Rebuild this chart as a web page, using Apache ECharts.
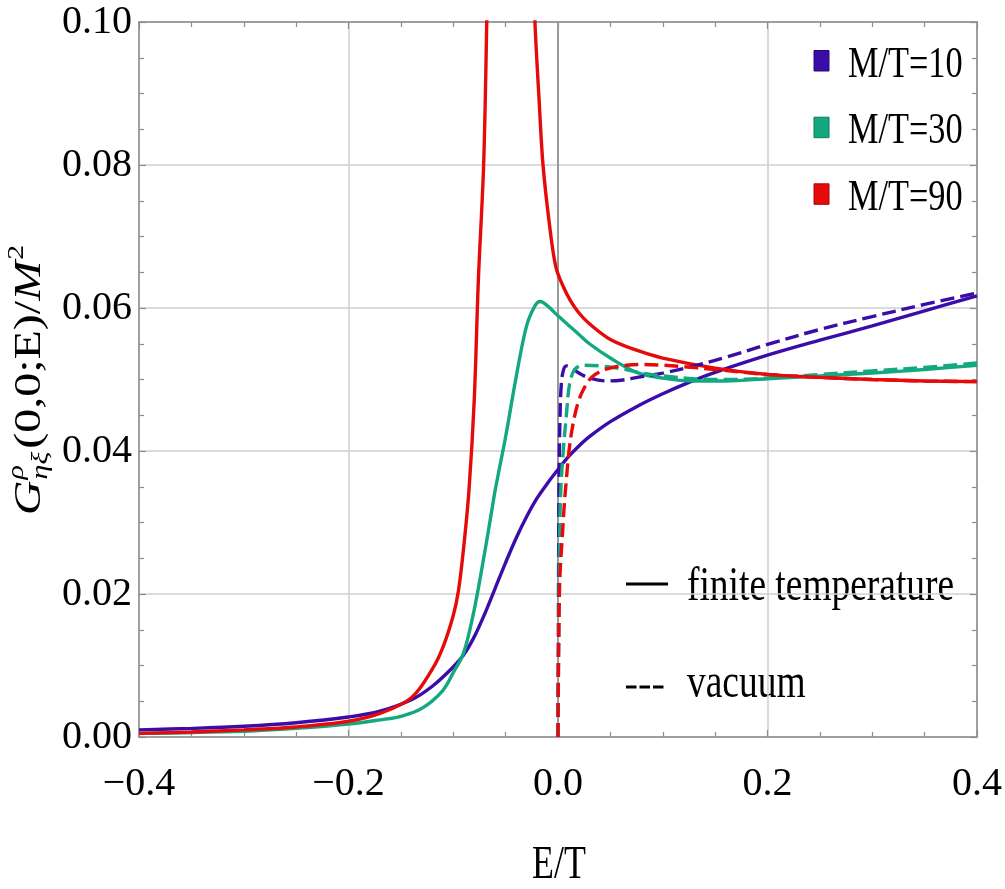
<!DOCTYPE html>
<html>
<head>
<meta charset="utf-8">
<script src="https://cdn.jsdelivr.net/npm/echarts/dist/echarts.min.js"></script>
<style>
  html, body { margin: 0; padding: 0; background: #fff; }
  #chart { width: 1005px; height: 889px; }
</style>
</head>
<body>
<div id="chart"></div>
<script>
// Spectral function G^rho_{eta xi}(0,0;E)/M^2 versus E/T, pairs [E/T, value]

// finite temperature, M/T = 10
const finiteM10 = [
  [-0.40, 0.0010], [-0.35, 0.0012], [-0.30, 0.0015], [-0.25, 0.0020], [-0.20, 0.0028],
  [-0.17, 0.0036], [-0.14, 0.0052], [-0.12, 0.0071], [-0.10, 0.0098], [-0.09, 0.0115],
  [-0.08, 0.0140], [-0.07, 0.0172], [-0.06, 0.0208], [-0.05, 0.0244], [-0.04, 0.0278],
  [-0.03, 0.0308], [-0.02, 0.0334], [-0.01, 0.0355], [0.00, 0.0374], [0.01, 0.0392],
  [0.02, 0.0407], [0.03, 0.0420], [0.05, 0.0441], [0.075, 0.0462], [0.10, 0.0480],
  [0.125, 0.0496], [0.15, 0.0510], [0.20, 0.0534], [0.25, 0.0555], [0.30, 0.0575],
  [0.35, 0.0596], [0.40, 0.0617]
];

// finite temperature, M/T = 30
const finiteM30 = [
  [-0.40, 0.0005], [-0.30, 0.0008], [-0.25, 0.0012], [-0.20, 0.0018], [-0.17, 0.0024],
  [-0.15, 0.0029], [-0.13, 0.0040], [-0.11, 0.0065], [-0.10, 0.0090], [-0.09, 0.0118],
  [-0.08, 0.0178], [-0.07, 0.0258], [-0.064, 0.0310], [-0.06, 0.0345], [-0.05, 0.0420],
  [-0.04, 0.0503], [-0.03, 0.0575], [-0.022, 0.0603], [-0.017, 0.0609], [-0.01, 0.0603],
  [0.00, 0.0589], [0.01, 0.0576], [0.02, 0.0563], [0.03, 0.0550], [0.05, 0.0530],
  [0.075, 0.0510], [0.10, 0.0502], [0.13, 0.0498], [0.16, 0.0498], [0.20, 0.0501],
  [0.25, 0.0505], [0.30, 0.0509], [0.35, 0.0514], [0.40, 0.0520]
];

// finite temperature, M/T = 90 (peak runs off the top of the frame)
const finiteM90 = [
  [-0.40, 0.0005], [-0.35, 0.0007], [-0.30, 0.0010], [-0.25, 0.0014], [-0.20, 0.0022],
  [-0.17, 0.0033], [-0.14, 0.0055], [-0.12, 0.0095], [-0.11, 0.0125], [-0.10, 0.0170],
  [-0.095, 0.0205], [-0.09, 0.0266], [-0.085, 0.0345], [-0.08, 0.0470], [-0.076, 0.0640],
  [-0.071, 0.0800], [-0.068, 0.1000], [-0.064, 0.1300], [-0.058, 0.1650], [-0.050, 0.1850],
  [-0.040, 0.1750], [-0.032, 0.1450], [-0.026, 0.1180], [-0.022, 0.1000], [-0.018, 0.0890],
  [-0.0143, 0.0800], [-0.008, 0.0715], [-0.002, 0.0657], [0.005, 0.0630], [0.012, 0.0610],
  [0.02, 0.0593], [0.03, 0.0578], [0.05, 0.0556], [0.075, 0.0541], [0.10, 0.0530],
  [0.15, 0.0516], [0.20, 0.0507], [0.25, 0.0503], [0.30, 0.0500], [0.35, 0.0498],
  [0.40, 0.0497]
];

// vacuum, M/T = 10
const vacuumM10 = [
  [0.0, 0.0], [0.0003, 0.012], [0.0006, 0.025], [0.001, 0.036], [0.0018, 0.044],
  [0.003, 0.049], [0.005, 0.0512], [0.008, 0.0519], [0.012, 0.0517], [0.02, 0.0509],
  [0.03, 0.0502], [0.045, 0.0498], [0.06, 0.0499], [0.08, 0.0504], [0.10, 0.0509],
  [0.133, 0.0520], [0.16, 0.0531], [0.20, 0.0549], [0.25, 0.0570], [0.30, 0.0588],
  [0.35, 0.0605], [0.40, 0.0621]
];

// vacuum, M/T = 30
const vacuumM30 = [
  [0.0, 0.0], [0.0005, 0.010], [0.001, 0.019], [0.0015, 0.027], [0.0025, 0.034],
  [0.005, 0.040], [0.008, 0.045], [0.011, 0.0493], [0.016, 0.0514], [0.025, 0.0520],
  [0.04, 0.0519], [0.06, 0.0515], [0.08, 0.0509], [0.10, 0.0505], [0.13, 0.0501],
  [0.16, 0.0500], [0.20, 0.0502], [0.25, 0.0507], [0.30, 0.0512], [0.35, 0.0517],
  [0.40, 0.0523]
];

// vacuum, M/T = 90
const vacuumM90 = [
  [0.0, 0.0], [0.0003, 0.008], [0.0007, 0.0136], [0.0012, 0.019], [0.002, 0.023],
  [0.004, 0.0278], [0.006, 0.0325], [0.008, 0.0360], [0.0105, 0.0400], [0.014, 0.0435],
  [0.019, 0.0467], [0.025, 0.0488], [0.032, 0.0503], [0.04, 0.0511], [0.05, 0.0516],
  [0.06, 0.0519], [0.08, 0.0521], [0.10, 0.0520], [0.12, 0.0518], [0.15, 0.0514],
  [0.20, 0.0507], [0.25, 0.0503], [0.30, 0.0500], [0.35, 0.0498], [0.40, 0.0497]
];

const massLabels = ['M/T=10', 'M/T=30', 'M/T=90'];
const styleLabels = ['finite temperature', 'vacuum'];
const xTicks = [-0.4, -0.2, 0.0, 0.2, 0.4];
const yTicks = [0.00, 0.02, 0.04, 0.06, 0.08, 0.10];

const COLORS = ['#3c0ca8', '#14a880', '#e60a0a'];
const EDGE = ['#2a0878', '#0c7a5c', '#a80808'];
const SERIF = "'Liberation Serif', 'Times New Roman', serif";
const SQUEEZE = 0.78;          // horizontal condensation of the typeface
const FRAME = '#8c8c8c';
const GRID = '#cfcfcf';

const measureCtx = document.createElement('canvas').getContext('2d');
function textWidth(str, size, style) {
  measureCtx.font = (style || 'normal') + ' ' + size + 'px ' + SERIF;
  return measureCtx.measureText(str).width;
}

function curve(name, data, color, dashed) {
  return {
    type: 'line',
    name: name,
    data: data,
    symbol: 'none',
    showSymbol: false,
    smooth: 0.35,
    clip: true,
    z: dashed ? 4 : 3,
    lineStyle: { color: color, width: 3.4, type: dashed ? [14, 6] : 'solid' },
    itemStyle: { color: color },
    emphasis: { disabled: true }
  };
}

function fmtTick(v, digits) {
  const s = Math.abs(v).toFixed(digits);
  return v < -1e-9 ? '\u2212' + s : s;
}

// rotated y-axis title built from pieces: G, ρ over ηξ, (0,0;E)/, M, ²
function yTitle() {
  const parts = [];
  let cx = 0;
  function piece(str, size, style, dy, advance) {
    parts.push({
      type: 'text', x: cx, y: dy,
      style: { text: str, fontSize: size, fontFamily: SERIF, fontStyle: style,
               fill: '#000', align: 'left', verticalAlign: 'middle' }
    });
    const w = textWidth(str, size, style);
    if (advance) cx += w;
    return w;
  }
  piece('G', 48, 'italic', 0, true);
  cx += 1;
  piece('\u03C1', 30, 'italic', -17, false);
  piece('\u03B7\u03BE', 30, 'italic', 14, true);
  cx += 3;
  piece('(0,0;E)/', 48, 'normal', 0, true);
  piece('M', 48, 'italic', 0, true);
  cx += 1;
  piece('2', 30, 'normal', -17, true);
  return {
    type: 'group',
    x: 30, y: 380 + cx / 2,
    rotation: Math.PI / 2,
    scaleY: SQUEEZE,
    children: parts
  };
}

const legendItems = [];
const legendRows = [65, 131.7, 198.3];
massLabels.forEach((label, i) => {
  legendItems.push({
    type: 'rect',
    shape: { x: 814, y: legendRows[i] - 14.5, width: 15, height: 20.5 },
    style: { fill: COLORS[i], stroke: EDGE[i], lineWidth: 1 }
  });
  legendItems.push({
    type: 'text', x: 848, y: legendRows[i], scaleX: SQUEEZE,
    style: { text: label, fontSize: 44, fontFamily: SERIF, fill: '#000',
             align: 'left', verticalAlign: 'middle' }
  });
});
legendItems.push({
  type: 'line', shape: { x1: 626, y1: 584, x2: 668, y2: 584 },
  style: { stroke: '#000', lineWidth: 3 }
});
legendItems.push({
  type: 'line', shape: { x1: 626, y1: 687, x2: 664, y2: 687 },
  style: { stroke: '#000', lineWidth: 3, lineDash: [10.5, 3] }
});
[[styleLabels[0], 587], [styleLabels[1], 684]].forEach(([t, y]) => {
  legendItems.push({
    type: 'text', x: 687, y: y, scaleX: SQUEEZE,
    style: { text: t, fontSize: 48, fontFamily: SERIF, fill: '#000',
             align: 'left', verticalAlign: 'middle' }
  });
});
legendItems.push({
  type: 'text', x: 559, y: 866, scaleX: SQUEEZE,
  style: { text: 'E/T', fontSize: 46, fontFamily: SERIF, fill: '#000',
           align: 'center', verticalAlign: 'middle' }
});
legendItems.push(yTitle());

const xCommon = {
  type: 'value', min: xTicks[0], max: xTicks[xTicks.length - 1], interval: 0.2,
  axisLine: { show: true, onZero: false, lineStyle: { color: FRAME, width: 1.5 } },
  axisTick: { show: true, inside: true, length: 7, lineStyle: { color: FRAME, width: 1.2 } },
  minorTick: { show: true, splitNumber: 4, length: 5, lineStyle: { color: FRAME, width: 1.2 } }
};
const yCommon = {
  type: 'value', min: yTicks[0], max: yTicks[yTicks.length - 1], interval: 0.02,
  axisLine: { show: true, onZero: false, lineStyle: { color: FRAME, width: 1.5 } },
  axisTick: { show: true, inside: true, length: 7, lineStyle: { color: FRAME, width: 1.2 } },
  minorTick: { show: true, splitNumber: 4, length: 5, lineStyle: { color: FRAME, width: 1.2 } }
};

const series = [
  curve(massLabels[0] + ' finite', finiteM10, COLORS[0], false),
  curve(massLabels[1] + ' finite', finiteM30, COLORS[1], false),
  curve(massLabels[2] + ' finite', finiteM90, COLORS[2], false),
  curve(massLabels[0] + ' vacuum', vacuumM10, COLORS[0], true),
  curve(massLabels[1] + ' vacuum', vacuumM30, COLORS[1], true),
  curve(massLabels[2] + ' vacuum', vacuumM90, COLORS[2], true)
];
// darker vertical axis line through E = 0
series[0].markLine = {
  silent: true, symbol: 'none', label: { show: false },
  lineStyle: { color: '#9a9a9a', width: 2, type: 'solid' },
  data: [{ xAxis: 0 }], z: 1
};

const chart = echarts.init(document.getElementById('chart'), null, { renderer: 'canvas' });
chart.setOption({
  animation: false,
  backgroundColor: '#fff',
  grid: { left: 139, right: 25, top: 22, bottom: 152, containLabel: false },
  xAxis: [
    Object.assign({}, xCommon, {
      position: 'bottom',
      splitLine: { show: true, lineStyle: { color: GRID, width: 1.5 } },
      axisLabel: {
        show: true, margin: 27, color: '#000', fontSize: 40, fontFamily: SERIF,
        formatter: v => fmtTick(v, 1)
      }
    }),
    Object.assign({}, xCommon, {
      position: 'top',
      splitLine: { show: false },
      axisLabel: { show: false }
    })
  ],
  yAxis: [
    Object.assign({}, yCommon, {
      position: 'left',
      splitLine: { show: true, lineStyle: { color: GRID, width: 1.5 } },
      axisLabel: {
        show: true, margin: 7, color: '#000', fontSize: 40, fontFamily: SERIF,
        formatter: v => fmtTick(v, 2)
      }
    }),
    Object.assign({}, yCommon, {
      position: 'right',
      splitLine: { show: false },
      axisLabel: { show: false }
    })
  ],
  series: series,
  graphic: { elements: legendItems }
});
</script>
</body>
</html>
